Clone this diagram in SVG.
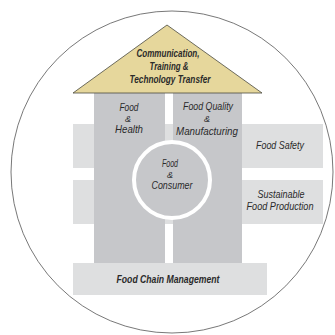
<svg xmlns="http://www.w3.org/2000/svg" width="335" height="335" viewBox="0 0 335 335">
  <style>
    .band { fill: #dedfe0; }
    .pillar { fill: #c6c7ca; }
    .lbl { font-family: "Liberation Sans", "Arial", sans-serif; font-style: italic; font-size: 10.5px; fill: #2a2a2a; text-anchor: middle; }
    .amp { font-size: 9px; }
    .big { font-size: 11px; font-weight: bold; }
  </style>
  <rect width="335" height="335" fill="#ffffff"/>
  <!-- outer boundary -->
  <circle cx="172" cy="172" r="161" fill="none" stroke="#555" stroke-width="0.8"/>

  <!-- horizontal bands behind the pillars -->
  <g id="food-safety">
    <rect class="band" x="73" y="124" width="250" height="44"/>
    <text class="lbl" x="280" y="149" textLength="48" lengthAdjust="spacingAndGlyphs">Food Safety</text>
  </g>
  <g id="sustainable-food-production">
    <rect class="band" x="73" y="180" width="250" height="44"/>
    <text class="lbl" x="281" y="198" textLength="47" lengthAdjust="spacingAndGlyphs">Sustainable</text>
    <text class="lbl" x="280" y="210" textLength="67" lengthAdjust="spacingAndGlyphs">Food Production</text>
  </g>

  <!-- pillars -->
  <g id="food-health">
    <rect class="pillar" x="94" y="93" width="71" height="170"/>
    <text class="lbl" x="129" y="111" textLength="19" lengthAdjust="spacingAndGlyphs">Food</text>
    <text class="lbl amp" x="128" y="122">&amp;</text>
    <text class="lbl" x="129" y="133" textLength="28" lengthAdjust="spacingAndGlyphs">Health</text>
  </g>
  <g id="food-quality-manufacturing">
    <rect class="pillar" x="173" y="93" width="69" height="170"/>
    <text class="lbl" x="208" y="110" textLength="50" lengthAdjust="spacingAndGlyphs">Food Quality</text>
    <text class="lbl amp" x="207" y="122">&amp;</text>
    <text class="lbl" x="207" y="135" textLength="62" lengthAdjust="spacingAndGlyphs">Manufacturing</text>
  </g>

  <!-- foundation -->
  <g id="food-chain-management">
    <rect class="band" x="73" y="263" width="194" height="32"/>
    <text class="lbl big" x="168" y="283" textLength="103" lengthAdjust="spacingAndGlyphs">Food Chain Management</text>
  </g>

  <!-- roof -->
  <g id="communication-training">
    <polygon points="167,25 73,93 262,93" fill="#e6d79c" stroke="#4a4a40" stroke-width="0.8"/>
    <text class="lbl big" x="168" y="57" textLength="63" lengthAdjust="spacingAndGlyphs">Communication,</text>
    <text class="lbl big" x="169" y="70" textLength="39" lengthAdjust="spacingAndGlyphs">Training &amp;</text>
    <text class="lbl big" x="170" y="83" textLength="81" lengthAdjust="spacingAndGlyphs">Technology Transfer</text>
  </g>

  <!-- hub -->
  <g id="food-consumer">
    <circle cx="172" cy="180" r="38" fill="#c6c7ca" stroke="#ffffff" stroke-width="4"/>
    <text class="lbl" x="170" y="167" textLength="16" lengthAdjust="spacingAndGlyphs">Food</text>
    <text class="lbl amp" x="170" y="178">&amp;</text>
    <text class="lbl" x="172" y="189" textLength="41" lengthAdjust="spacingAndGlyphs">Consumer</text>
  </g>
</svg>
